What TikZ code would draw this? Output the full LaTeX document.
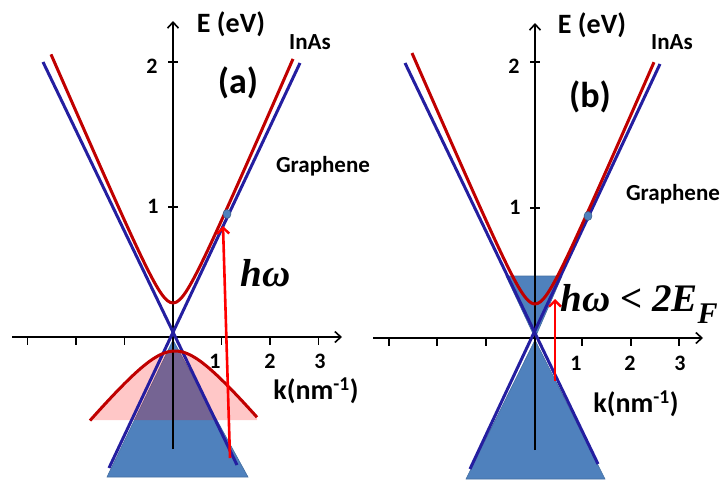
\documentclass[tikz,border=0pt]{standalone}
\usepackage{fontspec}
\setmainfont{Carlito}
\newfontfamily\serifbi{Liberation Serif}
\usetikzlibrary{arrows.meta,shapes.geometric}
\definecolor{gblue}{RGB}{36,30,160}
\definecolor{ired}{RGB}{192,0,0}
\definecolor{fillblue}{RGB}{79,129,189}
\definecolor{arrred}{RGB}{255,0,0}
\newcommand{\fs}[1]{\fontsize{#1}{#1}\selectfont}
\begin{document}
\begin{tikzpicture}[x=1pt,y=-1pt,
  graphene/.style={draw=gblue,line width=3pt},
  inas/.style={draw=ired,line width=3pt},
  axis/.style={draw=black,line width=1.6pt},
  axarrow/.style={axis,-{Straight Barb[length=6pt,width=11pt,line width=1.6pt]}},
  tickmark/.style={draw=black,line width=1.8pt},
  photon/.style={draw=arrred,line width=2.6pt},
  cone/.style={fill=fillblue,draw=fillblue!85!black,line width=0.6pt},
  pinkfill/.style={fill=red,fill opacity=0.22,draw=none},
  dot/.style={ellipse,inner sep=0pt,minimum width=8pt,minimum height=9pt,fill=fillblue,draw=fillblue!70!black,line width=0.5pt},
  lab/.style={font=\bfseries\fs{28}},
  ticklab/.style={font=\bfseries\fs{22}},
  namelab/.style={font=\bfseries\fs{23}},
  biglab/.style={font=\bfseries\fs{36}},
  mathlab/.style={font=\serifbi\bfseries\itshape\fs{39}}]
\useasboundingbox (0,0) rectangle (726,482);
% ---------------- panel (a)
\begin{scope}[shift={(173,337)}]
  \fill[cone] (0,3) -- (-66,140) -- (75,140) -- cycle;
  \fill[pinkfill] plot[domain=-83:84,samples=60,smooth] (\x,{14+10*sqrt(16+(0.12*(\x-2))^2)-40}) -- (84,83) -- (-83,83) -- cycle;
  \draw[axarrow] (-161,0) -- (169,0);
  \draw[axarrow] (0,112) -- (0,-316);
  \foreach \t in {-145.5,-97,-48.5,48.5,97,145.5} \draw[tickmark] (\t,0) -- (\t,8);
  \foreach \t in {-275,-130} \draw[tickmark] (-5,\t) -- (5,\t);
  \draw[graphene] (-130,-275) -- (64,128);
  \draw[graphene] (127,-274) -- (-64,131);
  \draw[inas] plot[domain=-122:120,samples=80,smooth] (\x,{-10*sqrt(3.4*3.4+(0.23*\x)^2)});
  \draw[inas] plot[domain=-83:84,samples=60,smooth] (\x,{14+10*sqrt(16+(0.12*(\x-2))^2)-40});
  \coordinate (aS) at (57,121);
  \coordinate (aT) at (50,-111);
  \draw[photon,-{Straight Barb[length=6pt,width=12pt,line width=2.4pt]}] (aS) -- (aT);
  \node[dot] (adot) at (54,-123) {};
  \node[ticklab,anchor=east] (a2) at (-12,-271) {2};
  \node[ticklab,anchor=east] (a1) at (-11,-131) {1};
  \node[ticklab] (ak1) at (42,24) {1};
  \node[ticklab] (ak2) at (97,24) {2};
  \node[ticklab] (ak3) at (147,24) {3};
  \node[lab] (aE) at (58,-313) {E (eV)};
  \node[namelab] (aInAs) at (137,-295) {InAs};
  \node[biglab] (alab) at (65,-254) {(a)};
  \node[namelab] (agr) at (150,-171) {Graphene};
  \node[mathlab,anchor=west] (ahw) at (64,-64) {hω};
  \node[lab] (ak) at (143,54) {k(nm\textsuperscript{-1})};
\end{scope}
% ---------------- panel (b)
\begin{scope}[shift={(535,338)}]
  \fill[cone] (0,2) -- (-69,141) -- (70,141) -- cycle;
  \fill[cone] (0,0) -- (-29,-62) -- (27,-62) -- cycle;
  \draw[axarrow] (-162,0) -- (168,0);
  \draw[axarrow] (0,112) -- (0,-315);
  \foreach \t in {-146,-98,-49,47,96,144} \draw[tickmark] (\t,0) -- (\t,8);
  \foreach \t in {-276,-130} \draw[tickmark] (-5,\t) -- (5,\t);
  \draw[graphene] (-130,-275) -- (63,126);
  \draw[graphene] (125,-274) -- (-65,131);
  \draw[inas] plot[domain=-123:119,samples=80,smooth] (\x,{-10*sqrt(3.4*3.4+(0.23*\x)^2)});
  \coordinate (bS) at (20,43);
  \coordinate (bT) at (20,-39);
  \draw[photon,-{Straight Barb[length=6pt,width=12pt,line width=2.4pt]}] (bS) -- (bT);
  \node[dot] (bdot) at (53,-122) {};
  \node[ticklab,anchor=east] (b2) at (-12,-272) {2};
  \node[ticklab,anchor=east] (b1) at (-11,-131) {1};
  \node[ticklab] (bk1) at (41,25) {1};
  \node[ticklab] (bk2) at (95,25) {2};
  \node[ticklab] (bk3) at (145,25) {3};
  \node[lab] (bE) at (57,-313) {E (eV)};
  \node[namelab] (bInAs) at (137,-296) {InAs};
  \node[biglab] (blab) at (55,-241) {(b)};
  \node[namelab] (bgr) at (138,-144) {Graphene};
  \node[mathlab,anchor=west] (bhw) at (22,-34) {hω < 2E\raisebox{-0.32em}{\fs{30}F}};
  \node[lab] (bk) at (101,66) {k(nm\textsuperscript{-1})};
\end{scope}
\end{tikzpicture}
\end{document}
